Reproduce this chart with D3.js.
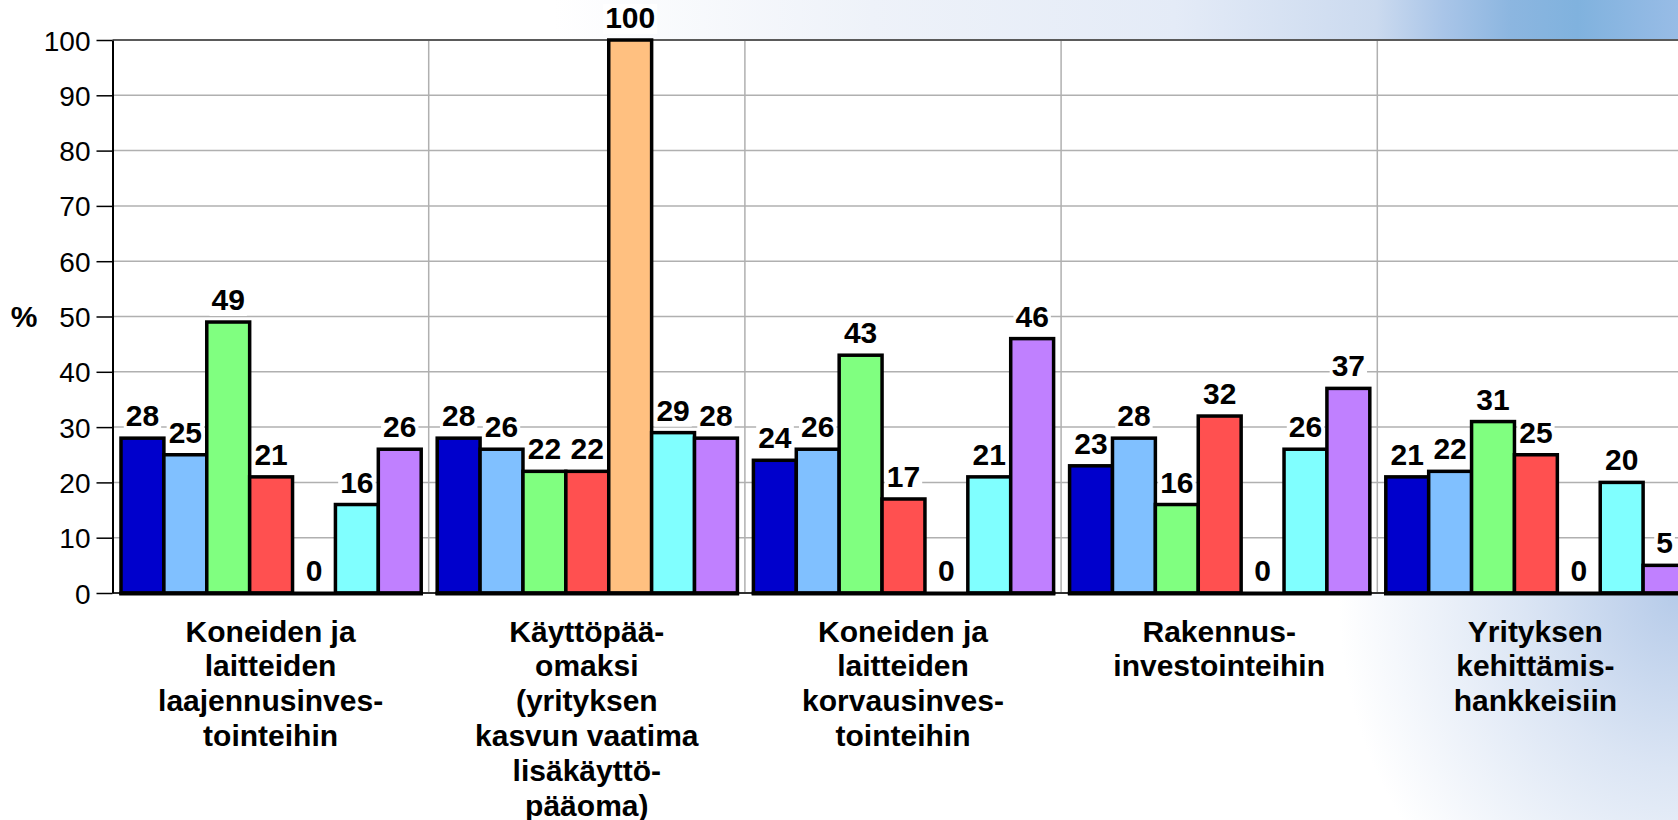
<!DOCTYPE html>
<meta charset="utf-8">
<style>
  body{
    margin: 0;
    overflow: hidden;
    background: #ffffff;
  }
  .tick text{
    font-family: "Liberation Sans", Arial, sans-serif;
    font-size: 28px;
    fill: black;
  }
  .bar-label{
    font-family: "Liberation Sans", Arial, sans-serif;
    font-size: 30px;
    font-weight: bold;
    fill: black;
  }
  .cat-label{
    font-family: "Liberation Sans", Arial, sans-serif;
    font-size: 30px;
    font-weight: bold;
    fill: black;
  }
</style>

<script src="https://d3js.org/d3.v7.min.js"></script>

<div id="my_dataviz"></div>

<script>

  // categories (one line per text row)
  const categories = ["koneet_laajennus", "kayttopaaoma", "koneet_korvaus", "rakennus", "kehittaminen"]
  const categoryLines = [
    ["Koneiden ja", "laitteiden", "laajennusinves-", "tointeihin"],
    ["Käyttöpää-", "omaksi", "(yrityksen", "kasvun vaatima", "lisäkäyttö-", "pääoma)"],
    ["Koneiden ja", "laitteiden", "korvausinves-", "tointeihin"],
    ["Rakennus-", "investointeihin"],
    ["Yrityksen", "kehittämis-", "hankkeisiin"]
  ]

  // series values, %, one value per category
  const series1 = [28, 28, 24, 23, 21]
  const series2 = [25, 26, 26, 28, 22]
  const series3 = [49, 22, 43, 16, 31]
  const series4 = [21, 22, 17, 32, 25]
  const series5 = [0, 100, 0, 0, 0]
  const series6 = [16, 29, 21, 26, 20]
  const series7 = [26, 28, 46, 37, 5]

  const yTicks = [0, 10, 20, 30, 40, 50, 60, 70, 80, 90, 100]

  const allSeries = [series1, series2, series3, series4, series5, series6, series7]
  const seriesColors = ["#0000CC", "#80C0FF", "#80FF80", "#FF5050", "#FFC080", "#80FFFF", "#C080FF"]

  const W = 1678, H = 820
  const margin = {top: 40, left: 112.5, bottom: 227}
  const groupWidth = 316.2
  const y0 = H - margin.bottom

  const svg = d3.select("#my_dataviz")
    .append("svg")
      .attr("width", W)
      .attr("height", H)

  const defs = svg.append("defs")

  // slide background: blue band at the top right
  const topGrad = defs.append("linearGradient")
      .attr("id", "topGrad")
      .attr("x1", "0%").attr("x2", "100%").attr("y1", "0%").attr("y2", "0%")
  const topStops = [[0, "#ffffff"], [0.33, "#ffffff"], [0.52, "#eef2f9"], [0.70, "#e4ebf7"],
                    [0.82, "#cbdaef"], [0.86, "#a9c5e8"], [0.90, "#8cb6e0"], [0.94, "#80b2de"], [1, "#98bce6"]]
  topGrad.selectAll("stop").data(topStops).join("stop")
      .attr("offset", d => d[0])
      .attr("stop-color", d => d[1])

  // and the soft glow at the bottom right
  const botGrad = defs.append("radialGradient")
      .attr("id", "botGrad")
      .attr("gradientUnits", "userSpaceOnUse")
      .attr("cx", W).attr("cy", y0).attr("r", 340)
      .attr("gradientTransform", `translate(${W},${y0}) scale(1,1.15) translate(${-W},${-y0})`)
  botGrad.selectAll("stop").data([[0, "#b6cbe9"], [0.45, "#dbe5f4"], [1, "#ffffff"]]).join("stop")
      .attr("offset", d => d[0])
      .attr("stop-color", d => d[1])

  svg.append("rect")
      .attr("x", 0).attr("y", 0).attr("width", W).attr("height", margin.top)
      .style("fill", "url(#topGrad)")

  svg.append("rect")
      .attr("x", 0).attr("y", y0).attr("width", W).attr("height", H - y0)
      .style("fill", "url(#botGrad)")

  // plot area
  const x = d3.scaleBand()
    .domain(categories)
    .range([margin.left, margin.left + groupWidth * categories.length])
    .padding(0)

  const xInner = d3.scaleBand()
    .domain(d3.range(allSeries.length))
    .range([8.5, groupWidth - 7.5])
    .padding(0)

  const y = d3.scaleLinear()
    .domain([0, 100])
    .range([y0, margin.top])

  svg.append("rect")
      .attr("x", margin.left).attr("y", margin.top)
      .attr("width", W - margin.left).attr("height", y0 - margin.top)
      .style("fill", "white")

  // horizontal grid
  svg.append("g")
    .selectAll("line")
    .data(yTicks.filter(d => d > 0 && d < 100))
    .join("line")
      .attr("x1", margin.left).attr("x2", W)
      .attr("y1", d => y(d)).attr("y2", d => y(d))
      .style("stroke", "#b0b0b0")
      .style("stroke-width", 1.5)

  // vertical grid between groups
  svg.append("g")
    .selectAll("line")
    .data(categories.slice(1))
    .join("line")
      .attr("x1", d => x(d)).attr("x2", d => x(d))
      .attr("y1", margin.top).attr("y2", y0)
      .style("stroke", "#b0b0b0")
      .style("stroke-width", 1.5)

  // top border of the plot
  svg.append("line")
      .attr("x1", margin.left).attr("x2", W)
      .attr("y1", y(100)).attr("y2", y(100))
      .style("stroke", "#5a5a5a")
      .style("stroke-width", 2)

  // x baseline
  svg.append("line")
      .attr("x1", margin.left).attr("x2", W)
      .attr("y1", y0).attr("y2", y0)
      .style("stroke", "#303030")
      .style("stroke-width", 2)

  // y axis
  const yAxis = svg.append("g")
      .attr("transform", `translate(${margin.left},0)`)
      .call(d3.axisLeft(y).tickValues(yTicks).tickSize(16).tickSizeOuter(0).tickPadding(6))
  yAxis.select(".domain").style("stroke", "black").style("stroke-width", 2)
  yAxis.selectAll(".tick line").style("stroke", "black").style("stroke-width", 1.5)
  yAxis.selectAll(".tick text").attr("dy", "0.36em")

  svg.append("text")
      .attr("class", "bar-label")
      .attr("x", 24)
      .attr("y", y(50) + 10)
      .attr("text-anchor", "middle")
      .text("%")

  // bars
  const cells = []
  categories.forEach(function(c, gi){
    allSeries.forEach(function(s, si){
      cells.push({cat: c, gi: gi, si: si, value: s[gi]})
    })
  })

  svg.append("g")
    .selectAll("rect")
    .data(cells.filter(d => d.value > 0))
    .join("rect")
      .attr("x", d => x(d.cat) + xInner(d.si))
      .attr("y", d => y(d.value))
      .attr("width", xInner.bandwidth())
      .attr("height", d => y0 - y(d.value))
      .style("fill", d => seriesColors[d.si])
      .style("stroke", "black")
      .style("stroke-width", 3.5)

  // thick black foot under each group
  svg.append("g")
    .selectAll("line")
    .data(categories)
    .join("line")
      .attr("x1", d => x(d) + xInner(0) - 1.75)
      .attr("x2", d => x(d) + xInner(allSeries.length - 1) + xInner.bandwidth() + 1.75)
      .attr("y1", y0 + 0.5).attr("y2", y0 + 0.5)
      .style("stroke", "black")
      .style("stroke-width", 4)

  // value labels with white boxes
  const labels = svg.append("g")
    .selectAll("g")
    .data(cells)
    .join("g")

  labels.append("text")
      .attr("class", "bar-label")
      .attr("x", d => x(d.cat) + xInner(d.si) + xInner.bandwidth() / 2)
      .attr("y", d => y(d.value) - 12)
      .attr("text-anchor", "middle")
      .text(d => d.value)

  labels.each(function(){
    const g = d3.select(this)
    const b = g.select("text").node().getBBox()
    g.insert("rect", "text")
      .attr("x", b.x - 2).attr("y", b.y + 3)
      .attr("width", b.width + 4).attr("height", b.height - 3)
      .style("fill", "white")
  })

  // category labels
  svg.append("g")
    .selectAll("text")
    .data(categories)
    .join("text")
      .attr("class", "cat-label")
      .attr("text-anchor", "middle")
      .attr("x", d => x(d) + x.bandwidth() / 2)
      .attr("y", 641.5)
    .selectAll("tspan")
    .data((d, i) => categoryLines[i])
    .join("tspan")
      .attr("x", function(){ return d3.select(this.parentNode).attr("x") })
      .attr("dy", (d, i) => i === 0 ? 0 : 34.8)
      .text(d => d)

</script>
